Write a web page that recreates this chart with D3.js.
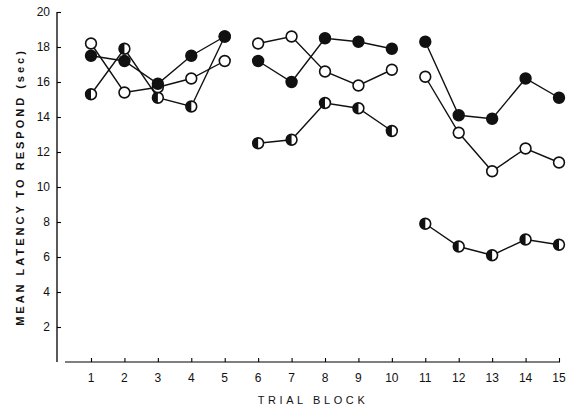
<!DOCTYPE html>
<html>
<head>
<meta charset="utf-8">
<script src="https://cdn.jsdelivr.net/npm/d3@7"></script>
<style>
  body { margin: 0; background: #fff; }
  text { font-family: "Liberation Sans", Arial, sans-serif; fill: #111; }
  .tick-label { font-size: 12px; }
  .axis-title { font-size: 11px; letter-spacing: 3px; }
</style>
</head>
<body>
<div id="chart"></div>
<script>
// trial blocks and mean latency (sec) for the three groups
const blocks = [1, 2, 3, 4, 5, 6, 7, 8, 9, 10, 11, 12, 13, 14, 15]
const openValues = [18.2, 15.4, 15.7, 16.2, 17.2, 18.2, 18.6, 16.6, 15.8, 16.7, 16.3, 13.1, 10.9, 12.2, 11.4]
const filledValues = [17.5, 17.2, 15.9, 17.5, 18.6, 17.2, 16.0, 18.5, 18.3, 17.9, 18.3, 14.1, 13.9, 16.2, 15.1]
const halfValues = [15.3, 17.9, 15.1, 14.6, 18.6, 12.5, 12.7, 14.8, 14.5, 13.2, 7.9, 6.6, 6.1, 7.0, 6.7]
const segments = [[1, 5], [6, 10], [11, 15]]
const yTicks = [2, 4, 6, 8, 10, 12, 14, 16, 18, 20]

const width = 572
const height = 410

const x = d3.scaleLinear().domain([1, 15]).range([91, 559])
const y = d3.scaleLinear().domain([0, 20]).range([362, 12])

const svg = d3.select("#chart").append("svg")
    .attr("width", width)
    .attr("height", height)

// axes
const yAxis = svg.append("g")
    .attr("transform", "translate(57,0)")
    .call(d3.axisRight(y).tickValues(yTicks).tickSize(4).tickFormat(""))
yAxis.select(".domain").attr("d", `M0,${y(20)}V${y(0)}`).attr("stroke-width", 1.3)
yAxis.selectAll(".tick line").attr("stroke-width", 1.1)

svg.selectAll(".y-label")
  .data(yTicks)
  .enter().append("text")
    .attr("class", "tick-label")
    .attr("x", 50)
    .attr("y", d => y(d) + 4)
    .attr("text-anchor", "end")
    .text(d => d)

const xAxis = svg.append("g")
    .attr("transform", `translate(0,${y(0)})`)
    .call(d3.axisTop(x).tickValues(blocks).tickSize(4).tickFormat(""))
xAxis.select(".domain").attr("d", "M65,0H560").attr("stroke-width", 1.2)
xAxis.selectAll(".tick line").attr("stroke-width", 1.1)

svg.selectAll(".x-label")
  .data(blocks)
  .enter().append("text")
    .attr("class", "tick-label")
    .attr("x", d => x(d))
    .attr("y", 382)
    .attr("text-anchor", "middle")
    .text(d => d)

svg.append("text")
    .attr("class", "axis-title")
    .attr("x", 313)
    .attr("y", 404)
    .attr("text-anchor", "middle")
    .style("letter-spacing", "3.6px")
    .text("TRIAL BLOCK")

svg.append("text")
    .attr("class", "axis-title")
    .attr("font-weight", "bold")
    .attr("transform", `translate(24,${187}) rotate(-90)`)
    .attr("text-anchor", "middle")
    .text("MEAN LATENCY TO RESPOND (sec)")

// series, drawn so the filled markers end up on top
const series = [
  { key: "half", values: halfValues },
  { key: "open", values: openValues },
  { key: "filled", values: filledValues },
]

const line = d3.line()
    .x(d => x(d.block))
    .y(d => y(d.value))

const plot = svg.append("g")

series.forEach(s => {
  const points = blocks.map((b, i) => ({ block: b, value: s.values[i] }))
  segments.forEach(([a, b]) => {
    plot.append("path")
        .attr("d", line(points.filter(p => p.block >= a && p.block <= b)))
        .attr("fill", "none")
        .attr("stroke", "#111")
        .attr("stroke-width", 1.4)
  })
})

const r = 5.4
series.forEach(s => {
  const points = blocks.map((b, i) => ({ block: b, value: s.values[i] }))
  const marks = plot.selectAll(`.mark-${s.key}`)
    .data(points)
    .enter().append("g")
      .attr("class", `mark-${s.key}`)
      .attr("transform", d => `translate(${x(d.block)},${y(d.value)})`)

  marks.append("circle")
      .attr("r", r)
      .attr("fill", s.key == "filled" ? "#111" : "#fff")
      .attr("stroke", "#111")
      .attr("stroke-width", 1.6)

  if (s.key == "half") {
    marks.append("path")
        .attr("d", `M0,${-r}A${r},${r} 0 0 0 0,${r}Z`)
        .attr("fill", "#111")
  }
})
</script>
</body>
</html>
